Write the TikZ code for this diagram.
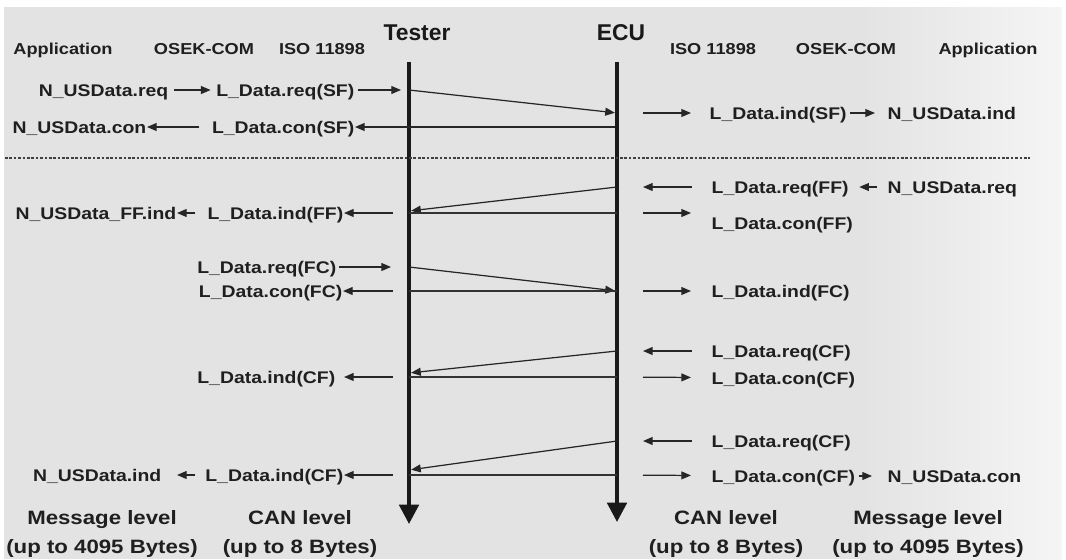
\documentclass[tikz,border=0pt]{standalone}
\usepackage{fontspec}
\setmainfont{Liberation Sans}[FakeStretch=1.15]
\newfontfamily\actorfont{Liberation Sans}
\usetikzlibrary{arrows.meta}

\begin{document}
\begin{tikzpicture}[x=0.02cm, y=-0.02cm, thick,
		lbl/.style={inner sep=0pt, font=\fontsize{9.6}{11}\selectfont\bfseries, text=black!88, text height=7pt, text depth=0pt},
		layer/.style={lbl, font=\fontsize{9}{11}\selectfont\bfseries},
		actor/.style={inner sep=0pt, font=\actorfont\fontsize{13}{15}\selectfont\bfseries, text=black!90},
		levelnote/.style={inner sep=0pt, align=center, font=\fontsize{11}{16.5}\selectfont\bfseries, text=black!88},
		life/.style={line width=2.2pt, black!90, -{Triangle[length=11pt,width=11pt]}},
		msg/.style={line width=0.7pt, black!85, -{Triangle[length=5.5pt,width=4.5pt]}, shorten >=1.2pt},
		call/.style={line width=0.7pt, black!85, -{Triangle[length=5.5pt,width=4.5pt]}, shorten <=0.1cm, shorten >=0.1cm},
		bus/.style={line width=0.6pt, black!80},
		divider/.style={line width=0.9pt, black!75, dash pattern=on 1.5pt off 1pt}]

	\useasboundingbox (0,0) rectangle (1066,559);
	\fill[black!11] (4,7) rectangle (1062,559);
	\shade[left color=black!11, right color=black!4] (860,7) rectangle (1062,559);

	% lifelines
	\node [actor] (tester) at (417,33) {Tester};
	\node [actor] (ecu) at (621,33) {ECU};
	\coordinate (ttop) at (409,62);
	\coordinate (tbot) at (409,524);
	\coordinate (etop) at (617,62);
	\coordinate (ebot) at (617,522);
	\draw [life] (ttop) -- (tbot);
	\draw [life] (etop) -- (ebot);

	% layer headings
	\node [layer] (appl) at (63,48) {Application};
	\node [layer] (osekl) at (204,48) {OSEK-COM};
	\node [layer] (isol) at (322,48) {ISO 11898};
	\node [layer] (isor) at (713,48) {ISO 11898};
	\node [layer] (osekr) at (846,48) {OSEK-COM};
	\node [layer] (appr) at (988,48) {Application};

	% single frame
	\node [lbl, anchor=east] (nreqsf) at (169,90) {N\_USData.req};
	\node [lbl, anchor=east] (lreqsf) at (355,90) {L\_Data.req(SF)};
	\coordinate (tsf) at (409,90);
	\coordinate (esf) at (617,113);
	\node [lbl, anchor=west] (lindsf) at (709,113) {L\_Data.ind(SF)};
	\node [lbl, anchor=west] (nindsf) at (887,113) {N\_USData.ind};
	\draw [call] (nreqsf) -- (lreqsf);
	\draw [call, shorten <=0.06cm, shorten >=0.16cm] (lreqsf) -- (tsf);
	\draw [msg] (tsf) -- (esf);
	\draw [call, shorten <=0.52cm, shorten >=0.36cm] (esf) -- (lindsf);
	\draw [call, shorten <=0.06cm, shorten >=0.24cm] (lindsf) -- (nindsf);

	\coordinate (econsf) at (617,127);
	\node [lbl, anchor=east] (lconsf) at (355,127) {L\_Data.con(SF)};
	\node [lbl, anchor=east] (nconsf) at (147,127) {N\_USData.con};
	\draw [call, shorten <=1.2pt, shorten >=0pt] (econsf) -- (lconsf);
	\draw [call, shorten <=0.24cm, shorten >=0pt] (lconsf) -- (nconsf);

	\coordinate (sepl) at (5,158);
	\coordinate (sepr) at (1030,158);
	\draw [divider] (sepl) -- (sepr);

	% first frame
	\node [lbl, anchor=west] (nreqff) at (887,187) {N\_USData.req};
	\node [lbl, anchor=west] (lreqff) at (711,187) {L\_Data.req(FF)};
	\coordinate (eff) at (617,187);
	\coordinate (tff) at (409,211);
	\draw [call, shorten <=0.2cm, shorten >=0.2cm] (nreqff) -- (lreqff);
	\draw [call, shorten <=0.38cm, shorten >=0.52cm] (lreqff) -- (eff);
	\draw [msg] (eff) -- (tff);

	\coordinate (tconff) at (409,213);
	\coordinate (econff) at (617,213);
	\draw [bus] (tconff) -- (econff);
	\node [lbl, anchor=east] (lindff) at (344,213) {L\_Data.ind(FF)};
	\node [lbl, anchor=east] (nindff) at (177,213) {N\_USData\_FF.ind};
	\draw [call, shorten <=0.32cm, shorten >=0pt] (tconff) -- (lindff);
	\draw [call, shorten <=0.24cm, shorten >=0pt] (lindff) -- (nindff);
	\node [lbl, anchor=west] (lconff) at (711,223) {L\_Data.con(FF)};
	\draw [call, shorten <=0.52cm, shorten >=0.4cm] (econff) -- (econff -| lconff.west);

	% flow control
	\node [lbl, anchor=east] (lreqfc) at (337,267) {L\_Data.req(FC)};
	\coordinate (tfc) at (409,267);
	\coordinate (efc) at (617,291);
	\draw [call, shorten <=0.04cm, shorten >=0.36cm] (lreqfc) -- (tfc);
	\draw [msg] (tfc) -- (efc);
	\node [lbl, anchor=west] (lindfc) at (711,291) {L\_Data.ind(FC)};
	\draw [call, shorten <=0.52cm, shorten >=0.4cm] (efc) -- (lindfc);

	\coordinate (tconfc) at (409,291);
	\draw [bus] (tconfc) -- (efc);
	\node [lbl, anchor=east] (lconfc) at (343,291) {L\_Data.con(FC)};
	\draw [call, shorten <=0.32cm, shorten >=0pt] (tconfc) -- (lconfc);

	% consecutive frame 1
	\node [lbl, anchor=west] (lreqcfa) at (711,351) {L\_Data.req(CF)};
	\coordinate (ecfa) at (617,351);
	\coordinate (tcfa) at (409,373);
	\draw [call, shorten <=0.38cm, shorten >=0.52cm] (lreqcfa) -- (ecfa);
	\draw [msg] (ecfa) -- (tcfa);

	\coordinate (tconcfa) at (409,377);
	\coordinate (econcfa) at (617,377);
	\draw [bus] (tconcfa) -- (econcfa);
	\node [lbl, anchor=east] (lindcfa) at (336,377) {L\_Data.ind(CF)};
	\draw [call, shorten <=0.32cm, shorten >=0.16cm] (tconcfa) -- (lindcfa);
	\node [lbl, anchor=west] (lconcfa) at (711,378) {L\_Data.con(CF)};
	\draw [call, shorten <=0.52cm, shorten >=0.4cm] (econcfa) -- (lconcfa);

	% consecutive frame 2
	\node [lbl, anchor=west] (lreqcfb) at (711,441) {L\_Data.req(CF)};
	\coordinate (ecfb) at (617,441);
	\coordinate (tcfb) at (409,470);
	\draw [call, shorten <=0.38cm, shorten >=0.52cm] (lreqcfb) -- (ecfb);
	\draw [msg] (ecfb) -- (tcfb);

	\coordinate (tconcfb) at (409,475);
	\coordinate (econcfb) at (617,475);
	\draw [bus] (tconcfb) -- (econcfb);
	\node [lbl, anchor=east] (lindcfb) at (344,475) {L\_Data.ind(CF)};
	\node [lbl, anchor=east] (nindcfb) at (162,475) {N\_USData.ind};
	\draw [call, shorten <=0.32cm, shorten >=0pt] (tconcfb) -- (lindcfb);
	\draw [call, shorten <=0.2cm, shorten >=0.3cm] (lindcfb) -- (nindcfb);
	\node [lbl, anchor=west] (lconcfb) at (711,476) {L\_Data.con(CF)};
	\node [lbl, anchor=west] (nconcfb) at (887,476) {N\_USData.con};
	\draw [call, shorten <=0.52cm, shorten >=0.4cm] (econcfb) -- (lconcfb);
	\draw [call, shorten <=0.06cm, shorten >=0.3cm] (lconcfb) -- (nconcfb);

	% levels
	\node [levelnote] (msgl) at (102,534) {Message level\\(up to 4095 Bytes)};
	\node [levelnote] (canl) at (300,534) {CAN level\\(up to 8 Bytes)};
	\node [levelnote] (canr) at (726,534) {CAN level\\(up to 8 Bytes)};
	\node [levelnote] (msgr) at (928,534) {Message level\\(up to 4095 Bytes)};

\end{tikzpicture}
\end{document}
